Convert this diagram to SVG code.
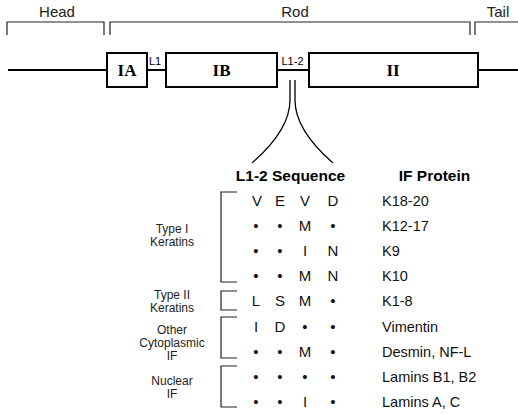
<svg xmlns="http://www.w3.org/2000/svg" width="518" height="414" viewBox="0 0 518 414">
<style>
.ln{fill:none;stroke:#000;stroke-width:1.3}
.th{fill:none;stroke:#000;stroke-width:2}
.box{fill:#fff;stroke:#000;stroke-width:2}
.br{fill:none;stroke:#222;stroke-width:1.2}
.lab{font-family:"Liberation Sans",Arial,sans-serif;font-size:15px;fill:#222;text-anchor:middle}
.dom{font-family:"Liberation Serif","Times New Roman",serif;font-size:17px;font-weight:bold;fill:#000;text-anchor:middle}
.sm{font-family:"Liberation Sans",Arial,sans-serif;font-size:11px;fill:#000;text-anchor:middle}
.hd{font-family:"Liberation Sans",Arial,sans-serif;font-size:15.5px;font-weight:bold;fill:#000;text-anchor:middle}
.aa{font-family:"Liberation Sans",Arial,sans-serif;font-size:15px;fill:#111;text-anchor:middle}
.pr{font-family:"Liberation Sans",Arial,sans-serif;font-size:14.5px;fill:#111}
.gl{font-family:"Liberation Sans",Arial,sans-serif;font-size:12px;fill:#222;text-anchor:middle}
</style>
<g id="regions">
<path class="br" d="M7,35 V22 H104 V35"/>
<path class="br" d="M110,35 V22 H470 V35"/>
<path class="br" d="M475,35 V22 H518"/>
<text class="lab" x="57" y="17">Head</text>
<text class="lab" x="295" y="17">Rod</text>
<text class="lab" x="498" y="17">Tail</text>
</g>
<g id="connectors">
<path class="th" d="M8,70 H107"/>
<path class="th" d="M147,70 H166"/>
<path class="th" d="M277,70 H309"/>
<path class="th" d="M478,70 H518"/>
<path class="ln" d="M290,80 V100 Q290,130 252,163"/>
<path class="ln" d="M295,80 V100 Q295,130 333,163"/>
</g>
<g id="IA"><rect class="box" x="107" y="53" width="40" height="34"/><text class="dom" x="127" y="76">IA</text></g>
<g id="L1"><text class="sm" x="155" y="65">L1</text></g>
<g id="IB"><rect class="box" x="166" y="53" width="111" height="34"/><text class="dom" x="221.5" y="76">IB</text></g>
<g id="L1-2"><text class="sm" x="292.5" y="65">L1-2</text></g>
<g id="II"><rect class="box" x="309" y="53" width="169" height="34"/><text class="dom" x="393" y="76">II</text></g>
<g id="headers">
<text class="hd" x="290.5" y="181">L1-2 Sequence</text>
<text class="hd" x="434.5" y="181">IF Protein</text>
</g>
<g id="groups">
<path class="br" d="M237,192 H221 V282 H237"/>
<path class="br" d="M237,291 H221 V310 H237"/>
<path class="br" d="M237,317 H221 V358 H237"/>
<path class="br" d="M237,366 H221 V407 H237"/>
<text class="gl" x="172" y="233">Type I</text>
<text class="gl" x="172" y="246">Keratins</text>
<text class="gl" x="172" y="299">Type II</text>
<text class="gl" x="172" y="312">Keratins</text>
<text class="gl" x="172" y="334">Other</text>
<text class="gl" x="172" y="347">Cytoplasmic</text>
<text class="gl" x="172" y="360">IF</text>
<text class="gl" x="172" y="385">Nuclear</text>
<text class="gl" x="172" y="398">IF</text>
</g>
<g id="sequence">
<text class="aa" y="206"><tspan x="257">V</tspan><tspan x="280">E</tspan><tspan x="305">V</tspan><tspan x="333">D</tspan></text>
<text class="aa" y="231"><tspan x="256">•</tspan><tspan x="280">•</tspan><tspan x="305">M</tspan><tspan x="333">•</tspan></text>
<text class="aa" y="256"><tspan x="256">•</tspan><tspan x="280">•</tspan><tspan x="305">I</tspan><tspan x="333">N</tspan></text>
<text class="aa" y="281"><tspan x="256">•</tspan><tspan x="280">•</tspan><tspan x="305">M</tspan><tspan x="333">N</tspan></text>
<text class="aa" y="306"><tspan x="256">L</tspan><tspan x="280">S</tspan><tspan x="305">M</tspan><tspan x="333">•</tspan></text>
<text class="aa" y="332"><tspan x="256">I</tspan><tspan x="280">D</tspan><tspan x="305">•</tspan><tspan x="333">•</tspan></text>
<text class="aa" y="357"><tspan x="256">•</tspan><tspan x="280">•</tspan><tspan x="305">M</tspan><tspan x="333">•</tspan></text>
<text class="aa" y="382"><tspan x="256">•</tspan><tspan x="280">•</tspan><tspan x="305">•</tspan><tspan x="333">•</tspan></text>
<text class="aa" y="407"><tspan x="256">•</tspan><tspan x="280">•</tspan><tspan x="305">I</tspan><tspan x="333">•</tspan></text>
</g>
<g id="proteins">
<text class="pr" x="382" y="206">K18-20</text>
<text class="pr" x="382" y="231">K12-17</text>
<text class="pr" x="382" y="256">K9</text>
<text class="pr" x="382" y="281">K10</text>
<text class="pr" x="382" y="306">K1-8</text>
<text class="pr" x="382" y="332">Vimentin</text>
<text class="pr" x="382" y="357">Desmin, NF-L</text>
<text class="pr" x="382" y="382">Lamins B1, B2</text>
<text class="pr" x="382" y="407">Lamins A, C</text>
</g>
</svg>
